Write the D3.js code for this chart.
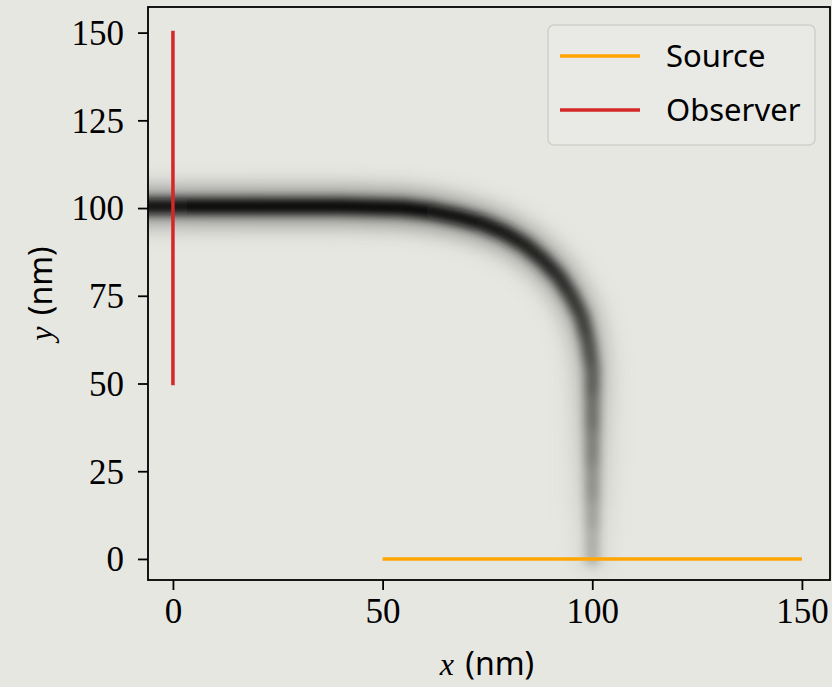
<!DOCTYPE html>
<html>
<head>
<meta charset="utf-8">
<script src="https://cdn.jsdelivr.net/npm/d3@7"></script>
<style>
  html, body { margin: 0; padding: 0; background: #e7e7e2; }
</style>
</head>
<body>
<div id="chart"></div>
<script>
// tick values
const xTicks = [0, 50, 100, 150];
const yTicks = [0, 25, 50, 75, 100, 125, 150];

// source / observer lines (nm)
const sourceX = [50, 150];
const sourceY = [0, 0];
const observerX = [0, 0];
const observerY = [50, 150];

// centre line of the field intensity and its darkness (0..1)
const guideX = [-14, -6, 5, 20, 40, 55, 62, 68, 74, 79, 84, 88, 92, 95, 97.5, 99, 100, 100, 100, 100, 100, 100, 100];
const guideY = [100.5, 100.5, 100.5, 100.5, 100.5, 100, 99, 97.5, 95.5, 93, 89.5, 85.5, 80.5, 75, 69, 62, 54, 45, 35, 25, 15, 7, 0];
const guideI = [0.9, 0.92, 0.96, 1.0, 1.0, 1.0, 0.98, 0.96, 0.93, 0.9, 0.86, 0.82, 0.77, 0.72, 0.67, 0.61, 0.53, 0.45, 0.37, 0.3, 0.23, 0.17, 0.12];

const legendNames = ['Source', 'Observer'];
const legendColors = ['#ffa500', '#d62728'];

const WIDTH = 832;
const HEIGHT = 687;
const BG = '#e7e7e2';
const PLOT = { LEFT: 148, RIGHT: 830, TOP: 7, BOTTOM: 580 };

const xScale = d3.scaleLinear().domain([-5.95, 156.7]).range([PLOT.LEFT, PLOT.RIGHT]);
const yScale = d3.scaleLinear().domain([-6, 157.3]).range([PLOT.BOTTOM, PLOT.TOP]);

const svg = d3.select('#chart').append('svg').attr('width', WIDTH).attr('height', HEIGHT);
svg.append('rect').attr('width', WIDTH).attr('height', HEIGHT).attr('fill', BG);

const defs = svg.append('defs');
defs.append('clipPath').attr('id', 'plotClip')
  .append('rect')
  .attr('x', PLOT.LEFT).attr('y', PLOT.TOP)
  .attr('width', PLOT.RIGHT - PLOT.LEFT).attr('height', PLOT.BOTTOM - PLOT.TOP);
const makeBlur = (id, sd) => {
  defs.append('filter').attr('id', id)
    .attr('filterUnits', 'userSpaceOnUse')
    .attr('x', 0).attr('y', 0).attr('width', WIDTH).attr('height', HEIGHT)
    .append('feGaussianBlur').attr('stdDeviation', sd);
};
makeBlur('blurWide', 12);
makeBlur('blurCore', 5);

// blurred field: a wide faint halo and a darker core, one segment per pair of points
const shade = d3.interpolateRgb(BG, '#000');
const fieldClip = svg.append('g').attr('clip-path', 'url(#plotClip)');
const drawField = (filterId, width, gain) => {
  const g = fieldClip.append('g').attr('filter', 'url(#' + filterId + ')');
  d3.range(guideX.length - 1).forEach((i) => {
    g.append('line')
      .attr('x1', xScale(guideX[i])).attr('y1', yScale(guideY[i]))
      .attr('x2', xScale(guideX[i + 1])).attr('y2', yScale(guideY[i + 1]))
      .attr('stroke', shade(gain * (guideI[i] + guideI[i + 1]) / 2))
      .attr('stroke-width', width)
      .attr('stroke-linecap', 'round');
  });
  return g;
};
drawField('blurWide', 30, 0.5);
drawField('blurCore', 15, 1.0).style('mix-blend-mode', 'multiply');

const line = d3.line().x((d) => xScale(d[0])).y((d) => yScale(d[1]));

svg.append('path')
  .datum(sourceX.map((x, i) => [x, sourceY[i]]))
  .attr('fill', 'none').attr('stroke', legendColors[0]).attr('stroke-width', 3.5)
  .attr('d', line);
svg.append('path')
  .datum(observerX.map((x, i) => [x, observerY[i]]))
  .attr('fill', 'none').attr('stroke', legendColors[1]).attr('stroke-width', 3.5)
  .attr('stroke-linecap', 'square')
  .attr('d', line);

// axes
const xAxis = d3.axisBottom(xScale).tickValues(xTicks).tickSizeInner(10).tickSizeOuter(0).tickPadding(8);
const yAxis = d3.axisLeft(yScale).tickValues(yTicks).tickSizeInner(10).tickSizeOuter(0).tickPadding(14);

const gx = svg.append('g').attr('transform', 'translate(0,' + PLOT.BOTTOM + ')').call(xAxis);
const gy = svg.append('g').attr('transform', 'translate(' + PLOT.LEFT + ',0)').call(yAxis);
[gx, gy].forEach((g) => {
  g.select('.domain').remove();
  g.selectAll('.tick line').attr('stroke', '#000').attr('stroke-width', 1.8);
  g.selectAll('.tick text')
    .attr('fill', '#000')
    .attr('font-family', '"Liberation Serif", "DejaVu Serif", serif')
    .attr('font-size', 35);
});
gy.selectAll('.tick text').attr('dy', '0.34em');

// frame
svg.append('rect')
  .attr('x', PLOT.LEFT).attr('y', PLOT.TOP)
  .attr('width', PLOT.RIGHT - PLOT.LEFT).attr('height', PLOT.BOTTOM - PLOT.TOP)
  .attr('fill', 'none').attr('stroke', '#000').attr('stroke-width', 1.8);

// axis labels
const xLabel = svg.append('text')
  .attr('x', 487).attr('y', 675)
  .attr('text-anchor', 'middle')
  .attr('font-size', 32);
xLabel.append('tspan').attr('font-family', '"Liberation Serif", serif').attr('font-style', 'italic').text('x');
xLabel.append('tspan').attr('font-family', '"Noto Sans", sans-serif').attr('dx', 3).text(' (nm)');

const yLabel = svg.append('text')
  .attr('transform', 'translate(52,' + (PLOT.TOP + PLOT.BOTTOM) / 2 + ') rotate(-90)')
  .attr('text-anchor', 'middle')
  .attr('font-size', 32);
yLabel.append('tspan').attr('font-family', '"Liberation Serif", serif').attr('font-style', 'italic').text('y');
yLabel.append('tspan').attr('font-family', '"Noto Sans", sans-serif').attr('dx', 3).text(' (nm)');

// legend
const legend = svg.append('g').attr('transform', 'translate(548,25)');
legend.append('rect')
  .attr('width', 267).attr('height', 120).attr('rx', 6)
  .attr('fill', '#e9e9e5').attr('stroke', '#cfcfcb').attr('stroke-width', 1.5);
legendNames.forEach((name, i) => {
  const y = 31 + i * 54;
  legend.append('line')
    .attr('x1', 12).attr('x2', 92).attr('y1', y).attr('y2', y)
    .attr('stroke', legendColors[i]).attr('stroke-width', 3.5);
  legend.append('text')
    .attr('x', 118).attr('y', y + 11)
    .attr('font-family', '"Noto Sans", sans-serif')
    .attr('font-size', 31)
    .attr('fill', '#000')
    .text(name);
});
</script>
</body>
</html>
